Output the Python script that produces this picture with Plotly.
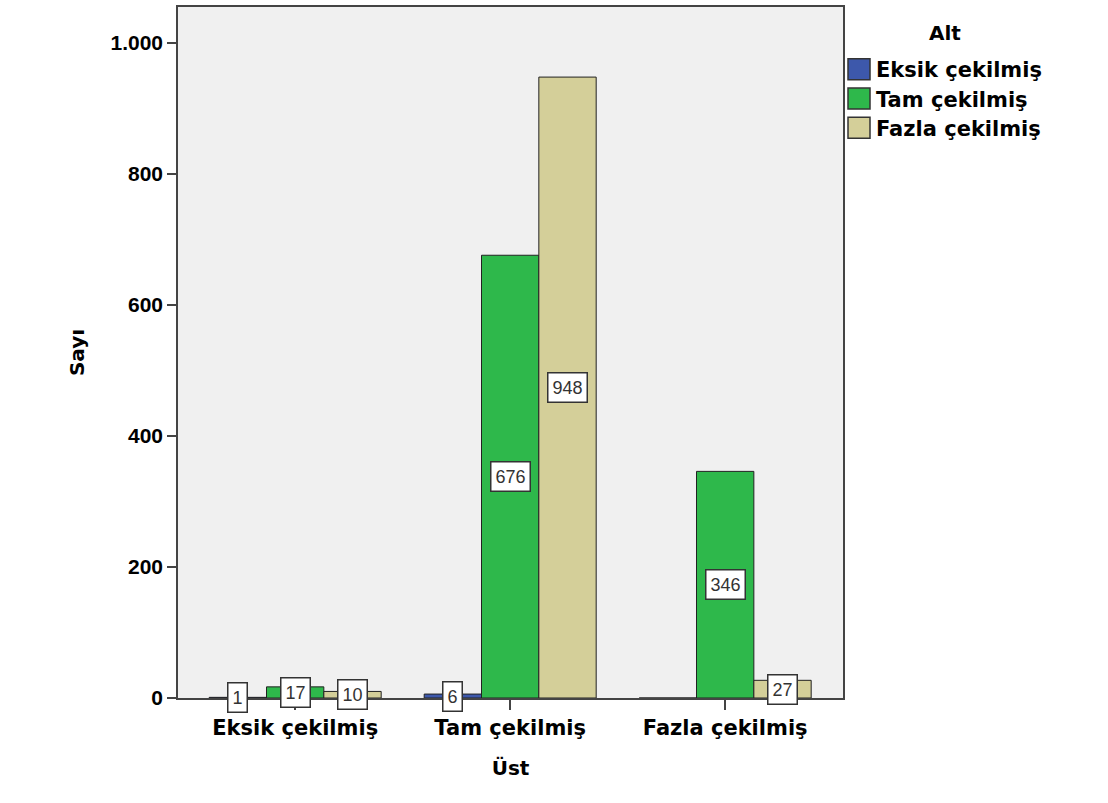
import plotly.graph_objects as go

categories = ["Eksik çekilmiş", "Tam çekilmiş", "Fazla çekilmiş"]
series_names = ["Eksik çekilmiş", "Tam çekilmiş", "Fazla çekilmiş"]
eksik_values = [1, 6, 0]
tam_values = [17, 676, 346]
fazla_values = [10, 948, 27]
series_values = [eksik_values, tam_values, fazla_values]
colors = ["#3D58AB", "#2EB84B", "#D4CF99"]
y_ticks = [0, 200, 400, 600, 800, 1000]
legend_title = "Alt"

LABEL_FONT = "DejaVu Sans, Verdana, sans-serif"
NUM_FONT = "Liberation Sans, Arial, sans-serif"

W, H = 1108, 803
ML, MR, MT, MB = 178, 265, 5, 105
PW, PH = W - ML - MR, H - MT - MB


def px_x(px):
    return (px - ML) / PW


def px_y(py):
    return (H - MB - py) / PH


fig = go.Figure()
for name, vals, col in zip(series_names, series_values, colors):
    fig.add_trace(go.Bar(
        x=categories, y=vals, name=name, showlegend=False,
        marker=dict(color=col, line=dict(color="#222222", width=1)),
    ))

bar_w = 0.8 / 3
offsets = [-bar_w, 0, bar_w]
annotations = []
for s, vals in enumerate(series_values):
    for i, v in enumerate(vals):
        if v <= 0:
            continue
        annotations.append(dict(
            x=i + offsets[s], y=v / 2, xref="x", yref="y",
            text=str(v), showarrow=False,
            font=dict(family=NUM_FONT, size=18, color="#333333"),
            bgcolor="white", bordercolor="#333333", borderwidth=1.5, borderpad=4,
        ))

# legend (drawn as swatches + labels)
shapes = []
annotations.append(dict(
    x=px_x(945), y=px_y(31), xref="paper", yref="paper",
    text=legend_title, showarrow=False, xanchor="center", yanchor="middle",
    font=dict(size=20, family=LABEL_FONT, weight="bold", color="black"),
))
for k, (name, col) in enumerate(zip(series_names, colors)):
    cy = 67.5 + 29.3 * k
    shapes.append(dict(
        type="rect", xref="paper", yref="paper",
        x0=px_x(848), x1=px_x(870), y0=px_y(cy - 10.5), y1=px_y(cy + 10.5),
        fillcolor=col, line=dict(color="#333333", width=1.5),
    ))
    annotations.append(dict(
        x=px_x(874), y=px_y(cy + 1), xref="paper", yref="paper",
        text=name, showarrow=False, xanchor="left", yanchor="middle",
        font=dict(size=21, family=LABEL_FONT, weight="bold", color="black"),
    ))

fig.update_layout(
    width=W, height=H,
    paper_bgcolor="white", plot_bgcolor="#F0F0F0",
    margin=dict(l=ML, r=MR, t=MT, b=MB),
    barmode="group", bargap=0.2, bargroupgap=0,
    separators=",.",
    font=dict(family=LABEL_FONT, color="black"),
    annotations=annotations,
    shapes=shapes,
    showlegend=False,
    xaxis=dict(
        type="category", range=[-0.545, 2.548],
        title=dict(text="Üst", font=dict(size=20, family=LABEL_FONT, weight="bold"), standoff=22),
        tickfont=dict(size=21, family=LABEL_FONT, weight="bold"),
        ticks="outside", ticklen=10, tickcolor="#444444", tickwidth=1.5,
        showline=True, linecolor="#444444", linewidth=1.5, mirror=True,
    ),
    yaxis=dict(
        range=[0, 1055], tickvals=y_ticks, tickformat=",d",
        title=dict(text="Sayı", font=dict(size=20, family=LABEL_FONT, weight="bold"), standoff=20),
        tickfont=dict(size=21, family=NUM_FONT, weight="bold"),
        ticks="outside", ticklen=9, tickcolor="#444444", tickwidth=1.5,
        showline=True, linecolor="#444444", linewidth=1.5, mirror=True,
        showgrid=False, zeroline=False,
    ),
)

fig.write_html("out.html", config={"displayModeBar": False},
               post_script="document.body.style.margin='0';")
